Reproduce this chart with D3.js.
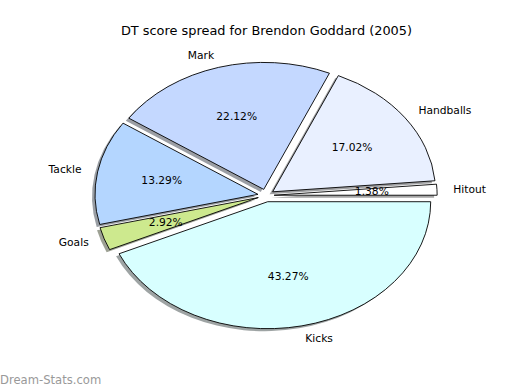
<!DOCTYPE html>
<html>
<head>
<meta charset="utf-8">
<script src="https://cdn.jsdelivr.net/npm/d3@7"></script>
<style>
  body { margin: 0; background: #fff; }
  text { font-family: "DejaVu Sans", sans-serif; }
</style>
</head>
<body>
<div id="chart"></div>
<script>
// data, in matplotlib order (counter-clockwise from 3 o'clock)
const labels = ["Hitout", "Handballs", "Mark", "Tackle", "Goals", "Kicks"];
const values = [1.38, 17.02, 22.12, 13.29, 2.92, 43.27];
const colors = ["#ffffff", "#e9f0ff", "#c4d8ff", "#b4d6ff", "#cde98e", "#d8ffff"];
const titleText = "DT score spread for Brendon Goddard (2005)";

const width = 520, height = 390;
const cx = 266, cy = 195.5;
const rx = 163, ry = 127;
const explode = 0.05;

const svg = d3.select("#chart")
    .append("svg")
    .attr("width", width)
    .attr("height", height);

// start at 3 o'clock and go counter-clockwise like matplotlib
const pie = d3.pie()
    .sort(null)
    .value(d => d.v)
    .startAngle(Math.PI / 2)
    .endAngle(Math.PI / 2 - 2 * Math.PI);

const data = labels.map((l, i) => ({ label: l, v: values[i], color: colors[i] }));
const arcs = pie(data);

// unit arc, stretched into an ellipse by the group transform
const arc = d3.arc().innerRadius(0).outerRadius(1);

function offset(d, k) {
    const m = (d.startAngle + d.endAngle) / 2;
    return [k * rx * Math.sin(m), -k * ry * Math.cos(m)];
}

// shadows first so every wedge sits on top of them
svg.append("g").selectAll("path")
    .data(arcs)
    .join("path")
    .attr("transform", d => {
        const [dx, dy] = offset(d, explode);
        return `translate(${cx + dx - 3},${cy + dy + 2.5}) scale(${rx},${ry})`;
    })
    .attr("d", arc)
    .attr("fill", d => d3.color(d.data.color).darker(3.5))
    .attr("fill-opacity", 0.5);

svg.append("g").selectAll("path")
    .data(arcs)
    .join("path")
    .attr("transform", d => {
        const [dx, dy] = offset(d, explode);
        return `translate(${cx + dx},${cy + dy}) scale(${rx},${ry})`;
    })
    .attr("d", arc)
    .attr("fill", d => d.data.color)
    .attr("stroke", "#000")
    .attr("stroke-width", 0.9)
    .attr("vector-effect", "non-scaling-stroke");

// category labels
svg.append("g").selectAll("text")
    .data(arcs)
    .join("text")
    .attr("x", d => cx + offset(d, explode + 1.1)[0])
    .attr("y", d => cy + offset(d, explode + 1.1)[1])
    .attr("text-anchor", d => offset(d, 1)[0] > 0 ? "start" : "end")
    .attr("dominant-baseline", "central")
    .attr("font-size", "10.7px")
    .attr("fill", "#000")
    .text(d => d.data.label);

// percentages
svg.append("g").selectAll("text")
    .data(arcs)
    .join("text")
    .attr("x", d => cx + offset(d, explode + 0.6)[0])
    .attr("y", d => cy + offset(d, explode + 0.6)[1])
    .attr("text-anchor", "middle")
    .attr("dominant-baseline", "central")
    .attr("font-size", "10.7px")
    .attr("fill", "#000")
    .text(d => d.data.v.toFixed(2) + "%");

svg.append("text")
    .attr("x", 266.5)
    .attr("y", 30)
    .attr("text-anchor", "middle")
    .attr("dominant-baseline", "central")
    .attr("font-size", "12.9px")
    .text(titleText);

svg.append("text")
    .attr("x", 0)
    .attr("y", 380)
    .attr("dominant-baseline", "central")
    .attr("font-size", "11.6px")
    .attr("fill", "#999")
    .text("Dream-Stats.com");
</script>
</body>
</html>
